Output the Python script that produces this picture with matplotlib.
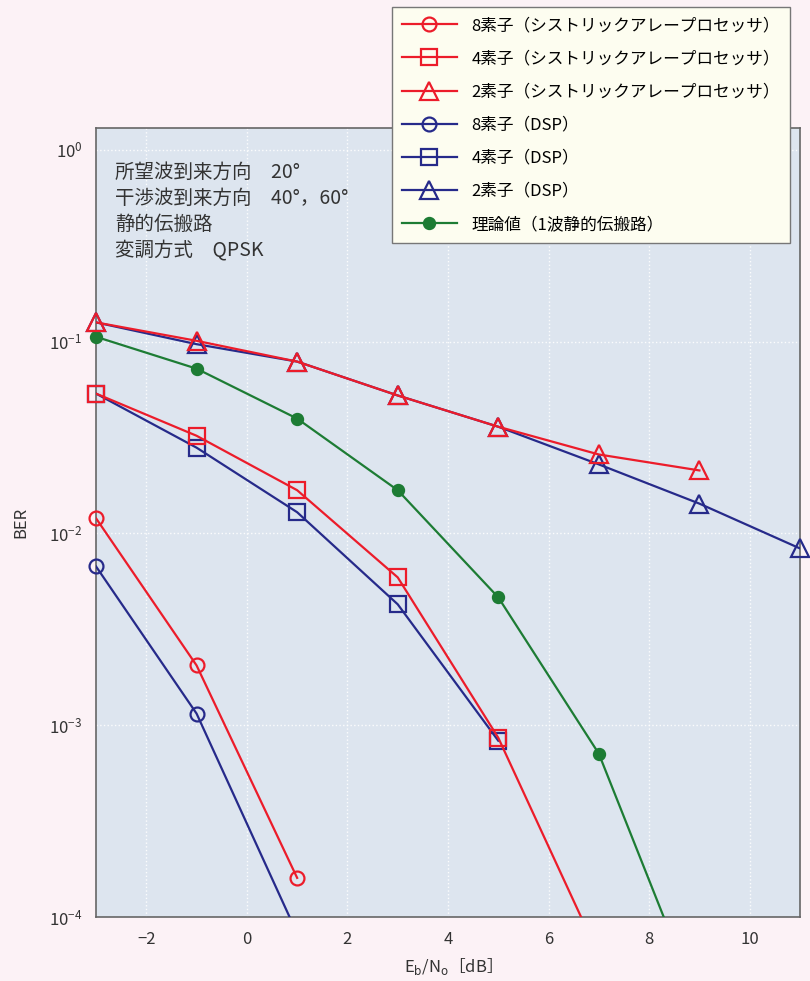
import matplotlib
matplotlib.use('Agg')
import matplotlib.pyplot as plt
from matplotlib.lines import Line2D

plt.rcParams['font.family'] = ['Noto Sans CJK JP', 'DejaVu Sans']

# the last value of some series only continues the line
sys8_x = [-3, -1, 1]
sys8_y = [0.012, 0.00205, 1.6e-4]
sys4_x = [-3, -1, 1, 3, 5, 7]
sys4_y = [0.0536, 0.0323, 0.0168, 0.0059, 8.6e-4, 6.3e-5]
sys2_x = [-3, -1, 1, 3, 5, 7, 9]
sys2_y = [0.126, 0.101, 0.0787, 0.0524, 0.036, 0.0258, 0.0213]
dsp8_x = [-3, -1, 1]
dsp8_y = [0.00673, 0.00115, 8.2e-5]
dsp4_x = [-3, -1, 1, 3, 5]
dsp4_y = [0.0536, 0.028, 0.0129, 0.00427, 8.3e-4]
dsp2_x = [-3, -1, 1, 3, 5, 7, 9, 11]
dsp2_y = [0.126, 0.097, 0.0787, 0.0524, 0.036, 0.0229, 0.0143, 0.00835]
theory_x = [-3, -1, 1, 3, 5, 7, 9]
theory_y = [0.106, 0.0723, 0.0397, 0.0168, 0.00464, 7.1e-4, 3.4e-5]

labels = ['8素子（シストリックアレープロセッサ）',
          '4素子（シストリックアレープロセッサ）',
          '2素子（シストリックアレープロセッサ）',
          '8素子（DSP）', '4素子（DSP）', '2素子（DSP）',
          '理論値（1波静的伝搬路）']
xticks = [-2, 0, 2, 4, 6, 8, 10]

red = '#ec1c2a'
blue = '#262a8a'
green = '#1d7c34'

fig = plt.figure(figsize=(8.1, 9.81), dpi=100, facecolor='#fcf2f6')
ax = fig.add_axes([96/810, 1-917/981, 704/810, 789/981])
ax.set_facecolor('#dde5ef')

series = [
    (sys8_x, sys8_y, 3, red, 'o', 10, 'none'),
    (sys4_x, sys4_y, 5, red, 's', 12, 'none'),
    (sys2_x, sys2_y, 7, red, '^', 13, 'none'),
    (dsp8_x, dsp8_y, 2, blue, 'o', 10, 'none'),
    (dsp4_x, dsp4_y, 5, blue, 's', 12, 'none'),
    (dsp2_x, dsp2_y, 8, blue, '^', 13, 'none'),
    (theory_x, theory_y, 6, green, 'o', 8, green),
]

handles = []
for x, y, n, c, m, ms, fc in series:
    z = 4 if c == red else 3
    ax.plot(x, y, color=c, lw=1.6, zorder=z)
    ax.plot(x[:n], y[:n], ls='none', marker=m, ms=ms, mfc=fc, mec=c,
            mew=1.6, zorder=z, clip_on=False)
    handles.append(Line2D([], [], color=c, lw=1.6, marker=m, ms=ms,
                          mfc=fc, mec=c, mew=1.6))

ax.set_yscale('log')
ax.set_xlim(-3, 11)
ax.set_ylim(1e-4, 1.3)
ax.set_xticks(xticks)
ax.minorticks_off()
ax.tick_params(length=0, labelsize=12, colors='#333333', pad=10)
ax.grid(True, color='white', ls=':', lw=1.0, alpha=0.9)
for s in ax.spines.values():
    s.set_color('#666666')
    s.set_linewidth(1.2)

ax.set_xlabel(r'E$_\mathrm{b}$/N$_\mathrm{o}$［dB］', fontsize=12,
              color='#333333', labelpad=6)
ax.set_ylabel('BER', fontsize=12, color='#333333', labelpad=14)

ax.text(0.027, 0.957,
        '所望波到来方向　20°\n干渉波到来方向　40°，60°\n静的伝搬路\n変調方式　QPSK',
        transform=ax.transAxes, va='top', ha='left', fontsize=14,
        linespacing=1.3, color='#333333')

fig.legend(handles, labels, loc='upper right',
           bbox_to_anchor=(790/810, 1-7/981), fontsize=12, handlelength=3.3,
           handletextpad=0.9, labelspacing=0.97, fancybox=False,
           edgecolor='#777777', facecolor='#fdfdf0', framealpha=1,
           borderpad=0.6, borderaxespad=0)

fig.savefig('out.png', dpi=100, facecolor=fig.get_facecolor())
